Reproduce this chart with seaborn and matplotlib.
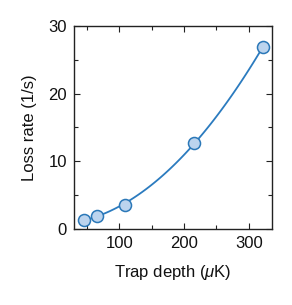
import matplotlib
matplotlib.use('Agg')
import matplotlib.pyplot as plt
import seaborn as sns
import pandas as pd
from matplotlib.ticker import MultipleLocator

depth = [45, 66, 109, 215, 322]
loss_rate = [1.38, 1.87, 3.6, 12.7, 26.9]

df = pd.DataFrame({'depth': depth, 'loss': loss_rate})

sns.set_style('ticks')
plt.rcParams['font.family'] = ['Liberation Sans', 'DejaVu Sans']
plt.rcParams['mathtext.fontset'] = 'custom'
plt.rcParams['mathtext.it'] = 'Liberation Sans:italic'
plt.rcParams['mathtext.rm'] = 'Liberation Sans'
plt.rcParams['text.color'] = '#111111'
plt.rcParams['axes.labelcolor'] = '#111111'
plt.rcParams['xtick.color'] = '#111111'
plt.rcParams['ytick.color'] = '#111111'

fig = plt.figure(figsize=(2.92, 3.05), dpi=100)
ax = fig.add_axes([0.253, 0.249, 0.679, 0.666])

sns.regplot(x='depth', y='loss', data=df, order=2, ci=None, truncate=True, ax=ax,
            scatter_kws={'s': 75, 'color': '#bcd4ee', 'edgecolor': '#2b78b8',
                         'linewidths': 1.1, 'alpha': 1, 'zorder': 3},
            line_kws={'color': '#2b7bbf', 'lw': 1.3, 'zorder': 2})

ax.set_xlim(30, 336)
ax.set_ylim(0, 30)
ax.xaxis.set_major_locator(MultipleLocator(100))
ax.xaxis.set_minor_locator(MultipleLocator(50))
ax.yaxis.set_major_locator(MultipleLocator(10))
ax.yaxis.set_minor_locator(MultipleLocator(5))
ax.tick_params(which='both', direction='in', top=True, right=True, labelsize=12,
               color='#222222', labelcolor='#111111')
ax.tick_params(which='major', length=4, width=0.8, pad=5)
ax.tick_params(which='minor', length=3, width=0.8)
for s in ax.spines.values():
    s.set_linewidth(1.0)
    s.set_color('#222222')

ax.set_xlabel(r'Trap depth ($\mu$K)', fontsize=12, labelpad=9)
ax.set_ylabel('Loss rate (1/s)', fontsize=12, labelpad=8)

fig.savefig('out.png', dpi=100)
